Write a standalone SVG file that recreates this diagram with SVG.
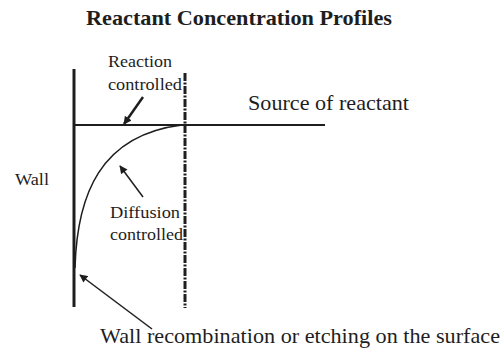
<svg xmlns="http://www.w3.org/2000/svg" width="501" height="351" viewBox="0 0 501 351">
<style>
text{font-family:'Liberation Serif','Times New Roman',serif;fill:#1e1e1e}
.t{font-size:21px;font-weight:bold}
.big{font-size:22px}
.sm{font-size:16px}
.ln{stroke:#1e1e1e;fill:none}
</style>
<defs>
<marker id="ah2" viewBox="0 0 10 10" refX="9" refY="5" markerWidth="9" markerHeight="8" markerUnits="userSpaceOnUse" orient="auto">
<path d="M0,0 L10,5 L0,10 z" fill="#1e1e1e"/>
</marker>
</defs>
<rect width="501" height="351" fill="#fff"/>
<text class="t" x="239" y="25" text-anchor="middle" textLength="306" lengthAdjust="spacingAndGlyphs">Reactant Concentration Profiles</text>
<g id="wall">
<line class="ln" x1="74" y1="69" x2="74" y2="307" stroke-width="3"/>
<text class="sm" x="15" y="185" textLength="34" lengthAdjust="spacingAndGlyphs">Wall</text>
</g>
<g id="boundary">
<line class="ln" x1="185" y1="73" x2="185" y2="308" stroke-width="3" stroke-dasharray="8 1.5 2 1.5"/>
</g>
<g id="source">
<line class="ln" x1="74" y1="125" x2="325" y2="125" stroke-width="2"/>
<text class="big" x="248" y="110" textLength="161" lengthAdjust="spacingAndGlyphs">Source of reactant</text>
</g>
<g id="profile">
<path class="ln" d="M75,268 C77,195 100,135 182,125" stroke-width="1.5"/>
</g>
<g id="labels">
<text class="sm" x="108" y="67" textLength="64" lengthAdjust="spacingAndGlyphs">Reaction</text>
<text class="sm" x="108" y="90" textLength="74" lengthAdjust="spacingAndGlyphs">controlled</text>
<text class="sm" x="110" y="218" textLength="70" lengthAdjust="spacingAndGlyphs">Diffusion</text>
<text class="sm" x="110" y="240" textLength="73" lengthAdjust="spacingAndGlyphs">controlled</text>
<text class="big" x="100" y="343" textLength="400" lengthAdjust="spacingAndGlyphs">Wall recombination or etching on the surface</text>
</g>
<g id="connectors">
<line class="ln" x1="143" y1="97" x2="124" y2="124" stroke-width="2.5" marker-end="url(#ah2)"/>
<line class="ln" x1="143" y1="197" x2="120" y2="166" stroke-width="1.5" marker-end="url(#ah2)"/>
<line class="ln" x1="152" y1="329" x2="80" y2="275" stroke-width="1.5" marker-end="url(#ah2)"/>
</g>
</svg>
